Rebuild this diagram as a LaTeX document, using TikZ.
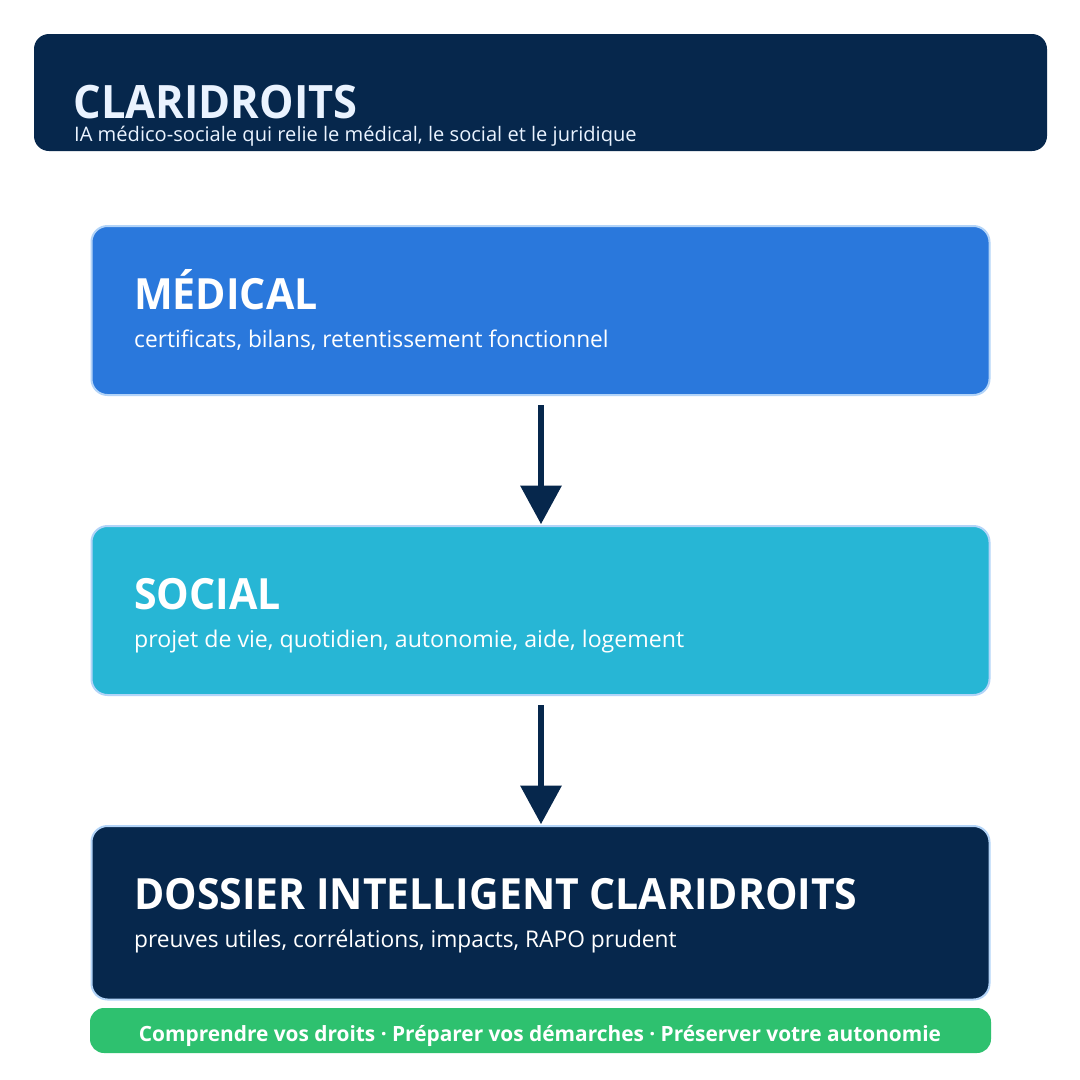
\documentclass[tikz,border=0pt]{standalone}
\usepackage{fontspec}
\usetikzlibrary{arrows.meta}
\setmainfont{Open Sans}
\newfontfamily\titlefont[FakeStretch=0.943]{Open Sans}
\newfontfamily\headfont[FakeStretch=0.955]{Open Sans}
\newfontfamily\dosfont[FakeStretch=0.952]{Open Sans}
\newfontfamily\subfont[FakeStretch=0.988]{Open Sans}
\newfontfamily\socfont[FakeStretch=1.006]{Open Sans}
\newfontfamily\topsubfont[FakeStretch=1.005]{Open Sans}
\newfontfamily\ribfont[FakeStretch=0.993]{Open Sans}
\definecolor{navy}{HTML}{06274C}
\definecolor{bluebox}{HTML}{2A78DC}
\definecolor{cyanbox}{HTML}{27B6D5}
\definecolor{greenbox}{HTML}{2EC16F}
\definecolor{edgeblue}{HTML}{B3D4F8}
\definecolor{pale}{HTML}{EAF3FF}
\tikzset{
 x=1pt,y=-1pt,
 panel/.style={anchor=north west,rounded corners=16pt,inner sep=0pt,outer sep=0pt,draw=edgeblue,line width=2pt,minimum width=898pt},
 banner/.style={anchor=north west,rounded corners=15pt,inner sep=0pt,outer sep=0pt,fill=navy,minimum width=1013pt,minimum height=117pt},
 ribbon/.style={anchor=north west,rounded corners=14pt,inner sep=0pt,outer sep=0pt,fill=greenbox,minimum width=901pt,minimum height=45pt},
 head/.style={anchor=base west,inner sep=0pt,text=white,font=\headfont\fontsize{43}{43}\selectfont\bfseries},
 sub/.style={anchor=base west,inner sep=0pt,text=white,font=\subfont\fontsize{23}{23}\selectfont},
 flow/.style={draw=navy,line width=6pt,-{Triangle[width=40pt,length=38.5pt,fill=navy]}},
}
\begin{document}
\begin{tikzpicture}
\useasboundingbox (0,0) rectangle (1080,1080);
\fill[white] (0,0) rectangle (1080,1080);
\node[banner] (top) at (34,34) {};
\node[head,text=pale,font=\titlefont\fontsize{46}{46}\selectfont\bfseries] (toptitle) at (73.5,118) {CLARIDROITS};
\node[sub,text=pale,font=\topsubfont\fontsize{20}{20}\selectfont] (topsub) at (74,141) {IA médico-sociale qui relie le médical, le social et le juridique};
\node[panel,fill=bluebox,minimum height=169pt] (med) at (91.5,226) {};
\node[head] (medt) at (134,309) {MÉDICAL};
\node[sub] (meds) at (134,347) {certificats, bilans, retentissement fonctionnel};
\node[panel,fill=cyanbox,minimum height=169pt] (soc) at (91.5,526) {};
\node[head] (soct) at (134,609) {SOCIAL};
\node[sub,font=\socfont\fontsize{23}{23}\selectfont] (socs) at (134,647) {projet de vie, quotidien, autonomie, aide, logement};
\node[panel,fill=navy,minimum height=173.5pt] (dos) at (91.5,826) {};
\node[head,font=\dosfont\fontsize{43}{43}\selectfont\bfseries] (dost) at (134,909) {DOSSIER INTELLIGENT CLARIDROITS};
\node[sub] (doss) at (134,947) {preuves utiles, corrélations, impacts, RAPO prudent};
\node[ribbon] (rib) at (90,1008) {};
\node[inner sep=0pt,text=white,anchor=base,font=\ribfont\fontsize{21}{21}\selectfont\bfseries] (ribt) at (540,1041) {Comprendre vos droits · Préparer vos démarches · Préserver votre autonomie};
\draw[flow] ([xshift=.5pt,yshift=-10pt]med.south) -- ([xshift=.5pt,yshift=1.8pt]soc.north);
\draw[flow] ([xshift=.5pt,yshift=-10pt]soc.south) -- ([xshift=.5pt,yshift=1.8pt]dos.north);
\end{tikzpicture}
\end{document}
